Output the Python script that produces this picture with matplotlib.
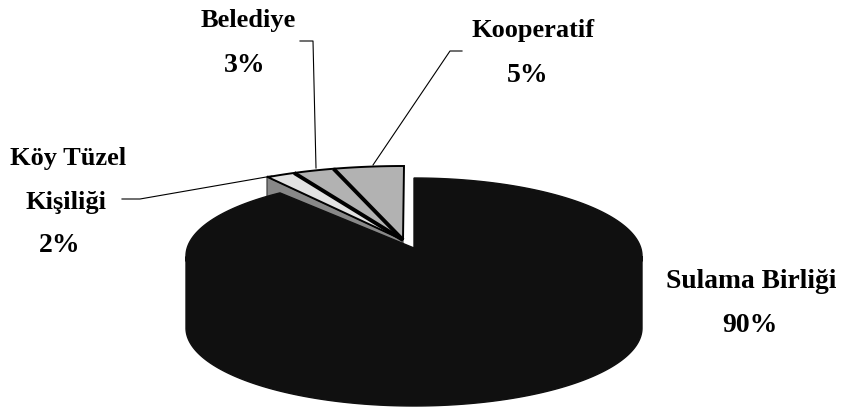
import numpy as np
import matplotlib
matplotlib.use("Agg")
import matplotlib.pyplot as plt
from matplotlib.patches import Polygon

labels = ["Sulama Birliği", "Köy Tüzel\nKişiliği", "Belediye", "Kooperatif"]
values = [90, 2, 3, 5]
top_colors = ["#101010", "#e2e2e2", "#b2b2b2", "#b2b2b2"]
wall_color = "#888888"

CX, CY, RX, RY = 414.0, 256.0, 228.0, 78.0
APEX_Y = 248.0
DEPTH = 72.0
EXP_X, EXP_Y = -10.0, -12.0
SL_APEX = (403.0, 240.0)
SL_FLAT = 0.72

fig = plt.figure(figsize=(8.54, 4.07), dpi=100)
ax = fig.add_axes([0, 0, 1, 1])
ax.set_xlim(0, 854)
ax.set_ylim(407, 0)
ax.axis("off")

def rim(a0, a1, n=120):
    t = np.radians(np.linspace(a0, a1, n))
    return CX + RX * np.sin(t), CY - RY * np.cos(t)

def slice_rim(a0, a1, n=120):
    x, y = rim(a0, a1, n)
    top_y = CY - RY
    return x + EXP_X, top_y + (y - top_y) * SL_FLAT + EXP_Y

angles = np.concatenate([[0], np.cumsum(values) * 3.6])

# exposed cut face of the exploded group (left side of the first small slice)
x, y = slice_rim(angles[1], angles[1], 1)
ox, oy = x[0] - 3, y[0]
face = [SL_APEX, (ox, oy), (ox, oy + DEPTH), (SL_APEX[0], SL_APEX[1] + DEPTH)]
ax.add_patch(Polygon(face, closed=True, fc=wall_color, ec="#333333", lw=0.8, zorder=2))

# exploded slices, top faces
for i in (1, 2, 3):
    x, y = slice_rim(angles[i], angles[i + 1])
    if i == 1:
        x[0] -= 3
    poly = np.vstack([[SL_APEX], np.column_stack([x, y])])
    ax.add_patch(Polygon(poly, closed=True, fc=top_colors[i], ec="#000000", lw=1.4,
                         joinstyle="miter", zorder=3))
# heavy dividers between the slices
for i in (2, 3):
    x, y = slice_rim(angles[i], angles[i], 1)
    ax.plot([SL_APEX[0], x[0]], [SL_APEX[1], y[0]], color="#000000",
            lw=2.8, solid_capstyle="butt", zorder=4)

# main slice: side wall and top
a0, a1 = angles[0], angles[1]
x, y = rim(a0, a1, 400)
ang = np.linspace(a0, a1, 400)
front = (ang > 90) & (ang < 270)
fx, fy = x[front], y[front]
side = np.vstack([np.column_stack([fx, fy]), np.column_stack([fx[::-1], fy[::-1] + DEPTH])])
ax.add_patch(Polygon(side, closed=True, fc=top_colors[0], ec=top_colors[0], lw=1, zorder=5))
top = np.vstack([[[CX, APEX_Y]], np.column_stack([x, y])])
ax.add_patch(Polygon(top, closed=True, fc=top_colors[0], ec=top_colors[0], lw=1, zorder=6))

# leader lines
leaders = [
    ([122, 140, 272], [199, 199, 176]),
    ([300, 313, 316], [41, 41, 168]),
    ([462, 450, 373], [51, 51, 165]),
]
for lx, ly in leaders:
    ax.plot(lx, ly, color="#000000", lw=0.8, zorder=2.5)

font = dict(family="Liberation Serif", weight="bold", ha="center", va="center",
            color="#000000", zorder=7)
ax.text(751, 281, labels[0], fontsize=19.8, **font)
ax.text(750, 325, f"{values[0]}%", fontsize=20, **font)
ax.text(68, 158, "Köy Tüzel", fontsize=19, **font)
ax.text(66, 202, "Kişiliği", fontsize=19, **font)
ax.text(60, 245, f"{values[1]}%", fontsize=20, **font)
ax.text(248, 21, labels[2], fontsize=19, **font)
ax.text(245, 65, f"{values[2]}%", fontsize=20, **font)
ax.text(533, 30, labels[3], fontsize=19, **font)
ax.text(528, 75, f"{values[3]}%", fontsize=20, **font)

fig.savefig("out.png", dpi=100, facecolor="white")
